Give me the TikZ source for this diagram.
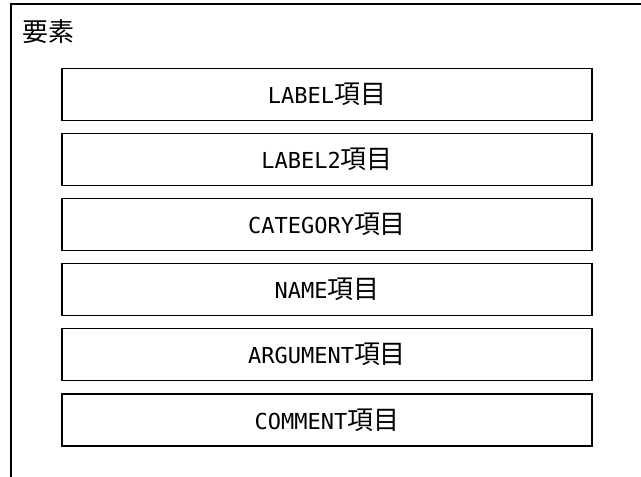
\documentclass[tikz,border=0pt]{standalone}
\usepackage{fontspec}
\setmainfont{DejaVu Sans Mono}
\newfontfamily\jpfont[Scale=1.18]{Noto Sans CJK JP}
\newcommand{\jp}[1]{{\jpfont #1}}
\usetikzlibrary{positioning}

\tikzset{
  frameline/.style={draw=black, line width=1.1pt},
  fieldbox/.style={draw=black, line width=1.1pt, minimum width=397.5pt,
    minimum height=39.2pt, inner sep=0pt, font=\fontsize{16.5}{19}\selectfont}
}

\begin{document}
\begin{tikzpicture}[x=0.75pt, y=-0.75pt]
  \useasboundingbox (0,0) rectangle (641,477);
  \fill[white] (0,0) rectangle (641,477);

  % outer element frame (runs past the right and bottom edges)
  \draw[frameline] (11,4) rectangle (660,500);
  \node[anchor=west, font=\fontsize{16.5}{20}\selectfont, inner sep=0pt] (title) at (22,32) {\jp{要素}};

  % item boxes
  \foreach \name/\label/\y in {
    label/LABEL/94.5,
    labeltwo/LABEL2/159.5,
    category/CATEGORY/224.5,
    name/NAME/289.5,
    argument/ARGUMENT/354.5,
    comment/COMMENT/420} {
    \node[fieldbox] (\name) at (327,\y) {\label\jp{項目}};
  }
\end{tikzpicture}
\end{document}
